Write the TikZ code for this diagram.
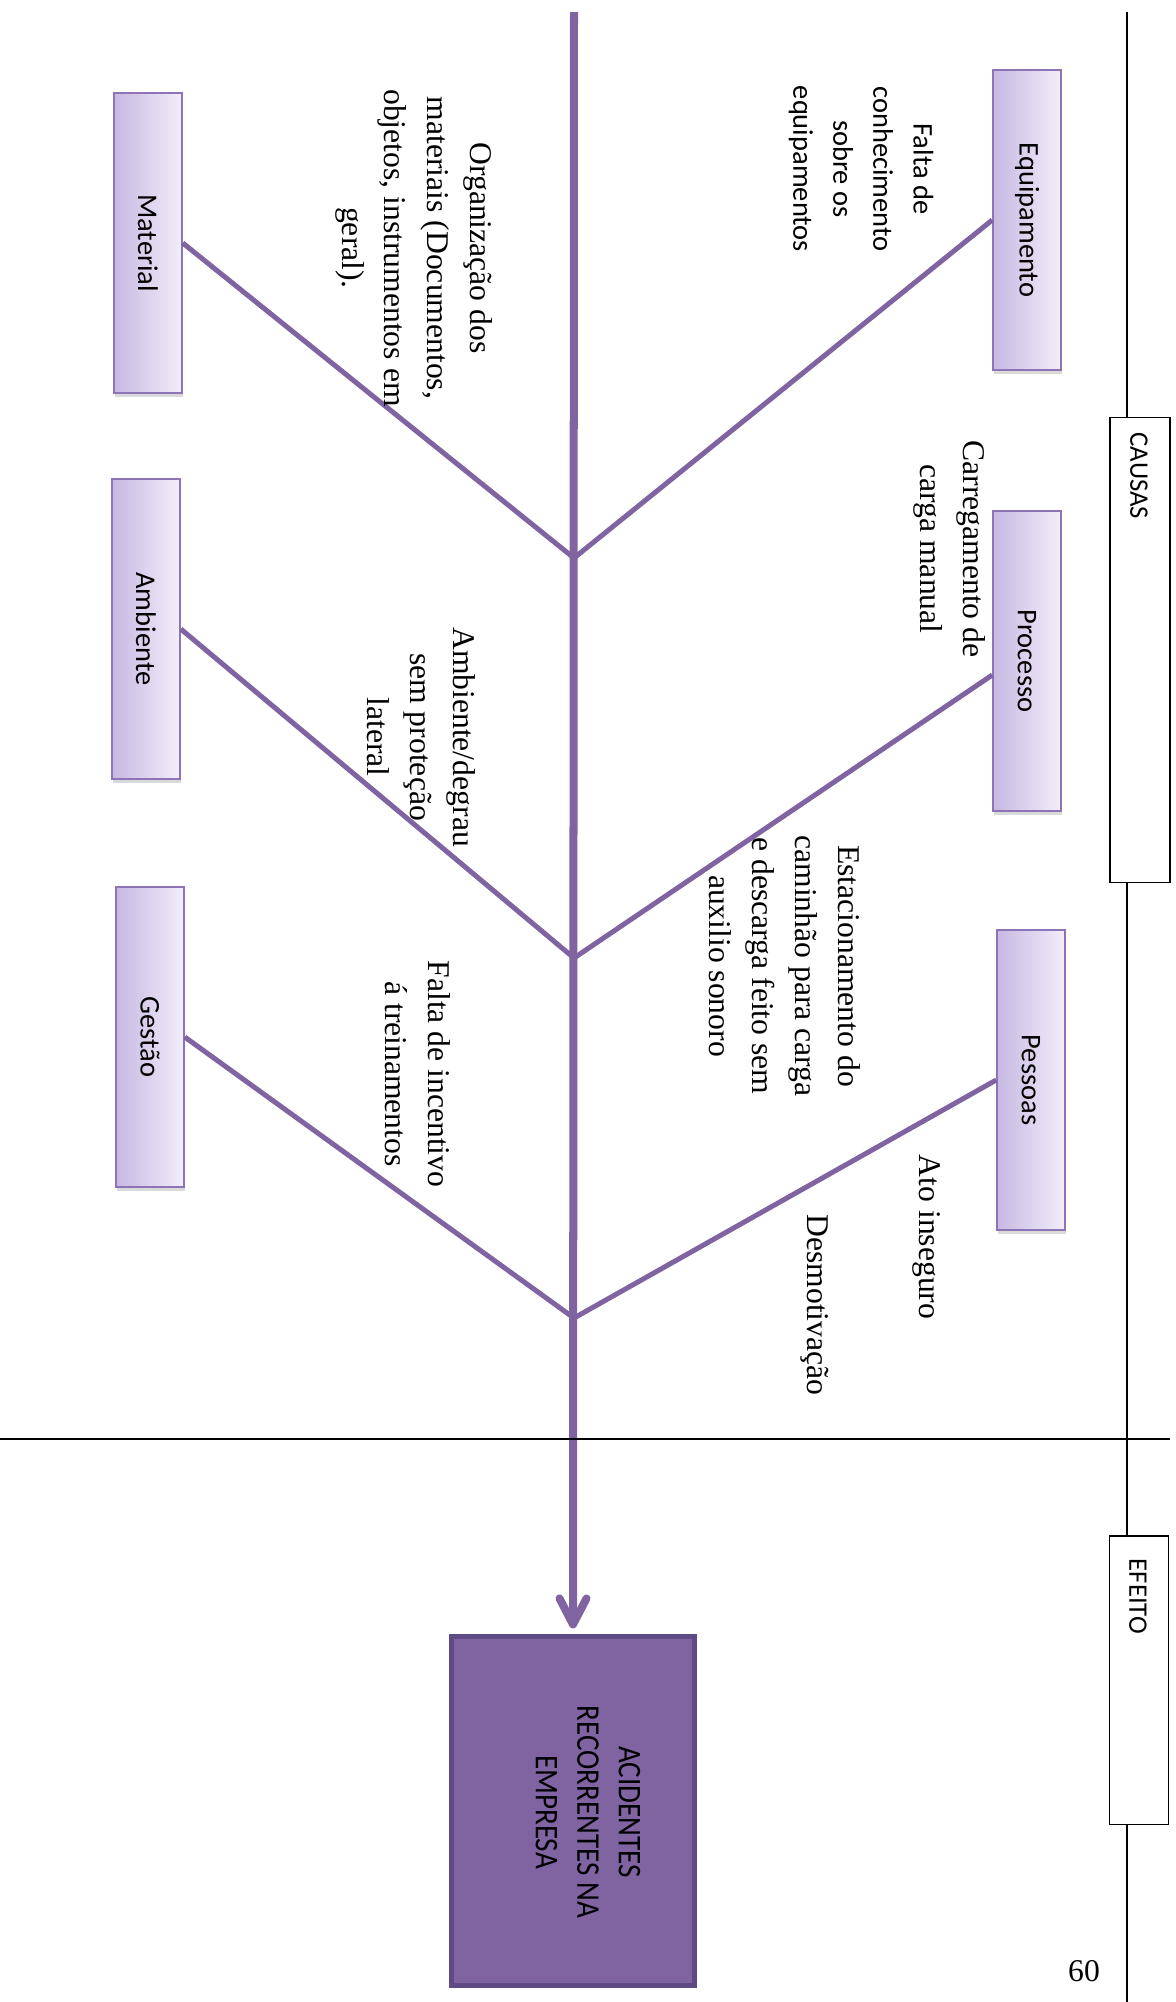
\documentclass[tikz,border=0pt]{standalone}
\usepackage{fontspec}
\usepackage{graphicx}
\setmainfont{Liberation Serif}
\newfontfamily\calfont{Carlito}
\newfontfamily\calnarrow[FakeStretch=0.88]{Carlito}
\usetikzlibrary{arrows.meta,shadows}

\definecolor{fishline}{RGB}{128,100,162}
\definecolor{boxdark}{RGB}{199,184,226}
\definecolor{boxlight}{RGB}{242,238,250}
\definecolor{boxedge}{RGB}{140,116,182}
\definecolor{effectfill}{RGB}{128,100,162}
\definecolor{effectedge}{RGB}{94,74,132}

\tikzset{
  spine/.style={draw=fishline, line width=0.08cm,
    -{Straight Barb[length=0.26cm, width=0.27cm, round]}, shorten >=0.06cm},
  bone/.style={draw=fishline, line width=0.05cm},
  catbox/.style={draw=boxedge, line width=0.015cm, left color=boxdark, right color=boxlight,
    minimum width=0.68cm, minimum height=3cm, inner sep=0pt,
    drop shadow={shadow xshift=0.01cm, shadow yshift=-0.04cm, opacity=0.3},
    font=\calfont\fontsize{8.1}{9.7}\selectfont},
  serifnote/.style={rotate=-90, align=center, inner sep=0pt,
    font=\fontsize{9}{12.2}\selectfont},
  sansnote/.style={rotate=-90, align=center, inner sep=0pt,
    font=\calfont\fontsize{8.1}{11.4}\selectfont},
  effectbox/.style={draw=effectedge, line width=0.05cm, fill=effectfill,
    minimum width=2.43cm, minimum height=3.48cm, inner sep=0pt},
  effecttext/.style={rotate=-90, align=center, inner sep=0pt,
    font=\calnarrow\fontsize{9.4}{11.8}\selectfont},
  frameline/.style={draw=black, line width=0.02cm},
  tagbox/.style={draw=black, line width=0.012cm, fill=white, inner sep=0pt},
  tagtext/.style={rotate=-90, anchor=west, inner sep=0pt,
    font=\calfont\fontsize{7.6}{9}\selectfont},
}

\begin{document}
\begin{tikzpicture}[x=0.01cm, y=-0.01cm]
\useasboundingbox (0,0) rectangle (1176,2002);

% spine junctions
\coordinate (top) at (574,12);
\coordinate (j1) at (574,558);
\coordinate (j2) at (574,958);
\coordinate (j3) at (574,1318);

% cause categories
\node[catbox] (equip) at (1027,220) {\rotatebox{-90}{Equipamento}};
\node[catbox] (proc) at (1027,661) {\rotatebox{-90}{Processo}};
\node[catbox] (pess) at (1031,1080) {\rotatebox{-90}{Pessoas}};
\node[catbox] (mat) at (148,243) {\rotatebox{-90}{Material}};
\node[catbox] (amb) at (146,629) {\rotatebox{-90}{Ambiente}};
\node[catbox] (gest) at (150,1037) {\rotatebox{-90}{Gestão}};

% effect
\node[effectbox] (eff) at (573,1811) {};
\node[effecttext] (efftxt) at (588,1812) {ACIDENTES\\RECORRENTES NA\\EMPRESA};

% bones
\draw[bone] (equip.west) -- (j1);
\draw[bone] (mat.east) -- (j1);
\draw[bone] ([yshift=-0.14cm]proc.west) -- (j2);
\draw[bone] (amb.east) -- (j2);
\draw[bone] (pess.west) -- (j3);
\draw[bone] (gest.east) -- (j3);
\draw[spine] (top) -- (eff.north);

% causes
\node[sansnote] (n1) at (861,169) {Falta de\\conhecimento\\sobre os\\equipamentos};
\node[serifnote] (n2) at (414,248) {Organização dos\\materiais (Documentos,\\objetos, instrumentos em\\geral).};
\node[serifnote] (n3) at (950,549) {Carregamento de\\carga manual};
\node[serifnote] (n4) at (785,966) {Estacionamento do\\caminhão para carga\\e descarga feito sem\\auxilio sonoro};
\node[serifnote] (n5) at (927,1237) {Ato inseguro};
\node[serifnote] (n6) at (815,1305) {Desmotivação};
\node[serifnote] (n7) at (421,737) {Ambiente/degrau\\sem proteção\\lateral};
\node[serifnote] (n8) at (418,1074) {Falta de incentivo\\á treinamentos};

% frame
\coordinate (vtop) at (1127,12);
\coordinate (vbot) at (1127,2002);
\coordinate (hleft) at (0,1439);
\coordinate (hright) at (1170,1439);
\draw[frameline] (vtop) -- (vbot);
\draw[frameline] (hleft) -- (hright);

\node[tagbox, minimum width=0.6cm, minimum height=4.64cm] (causas) at (1140,650) {};
\node[tagtext] (causastxt) at (1139,432) {CAUSAS};
\node[tagbox, minimum width=0.59cm, minimum height=2.88cm] (efeito) at (1139,1680) {};
\node[tagtext] (efeitotxt) at (1138,1558) {EFEITO};

\node[font=\fontsize{9}{11}\selectfont, inner sep=0pt] (page) at (1084,1971) {60};
\end{tikzpicture}
\end{document}
